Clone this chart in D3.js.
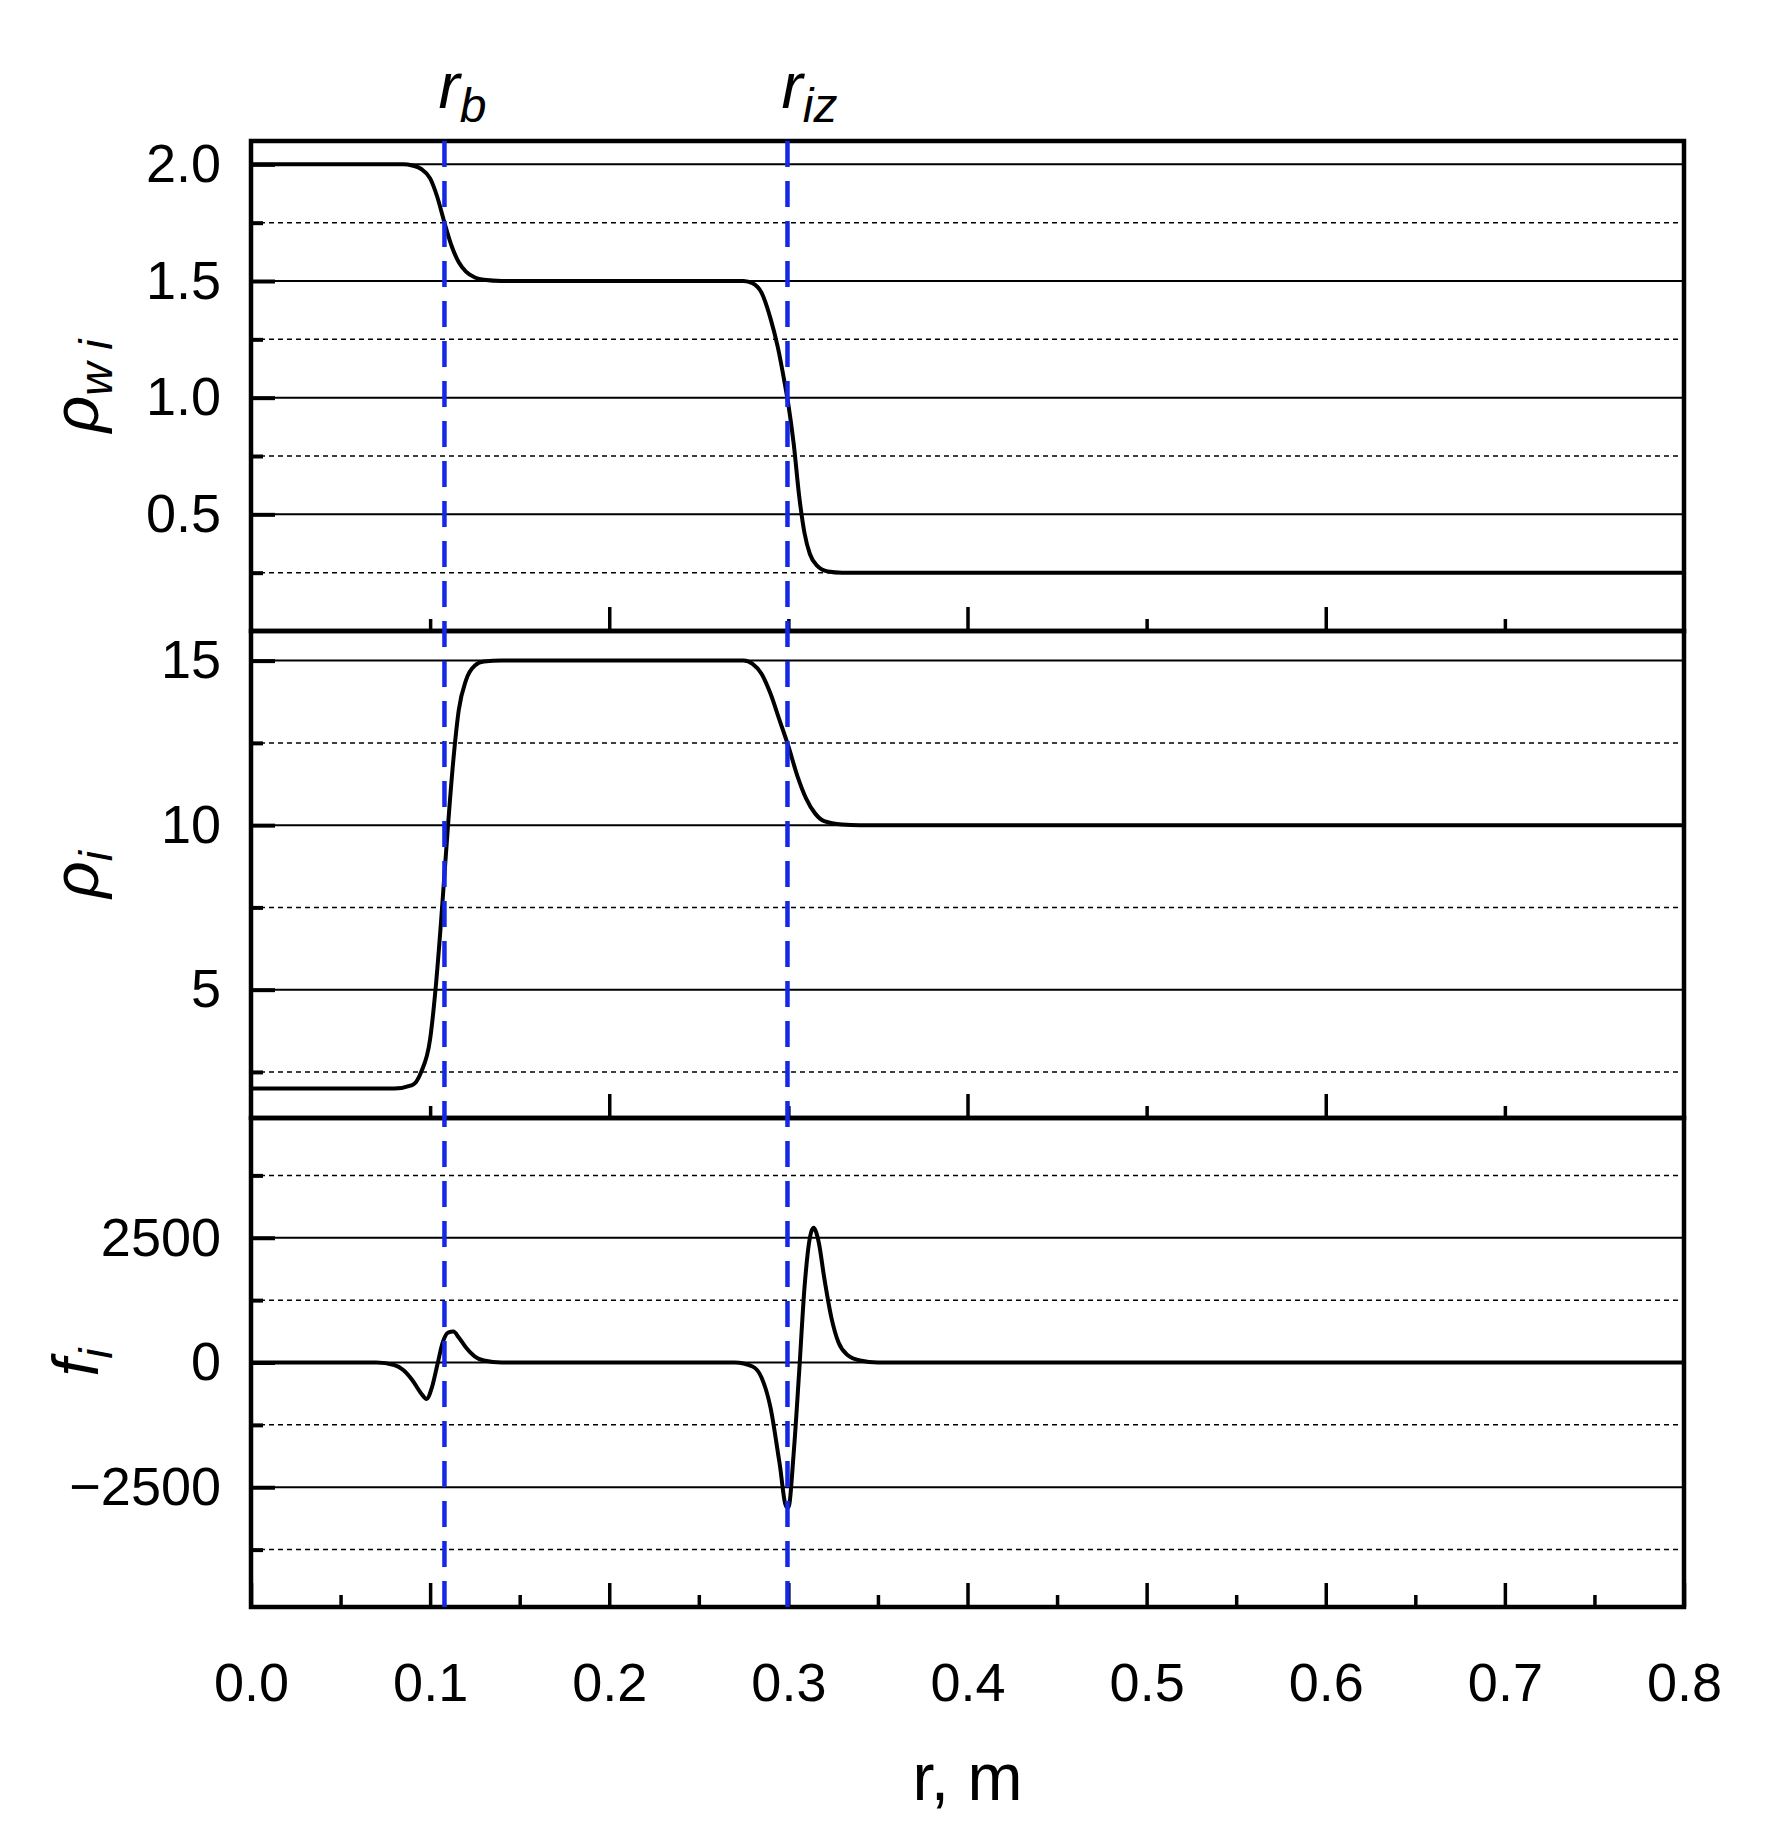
<!DOCTYPE html><html><head><meta charset="utf-8">
<script src="https://cdn.jsdelivr.net/npm/d3@7"></script>
<style>body{margin:0;background:#fff}</style></head><body>
<svg id="c" width="1780" height="1844"></svg>
<script>
const xTicks=[0,0.1,0.2,0.3,0.4,0.5,0.6,0.7,0.8];
const markers=[{x:0.108,label:"r",sub:"b"},{x:0.2995,label:"r",sub:"iz"}];
const rhoW=[[0,2],[0.085,2],[0.09,1.995],[0.095,1.98],[0.1,1.94],[0.104,1.86],[0.108,1.75],[0.112,1.65],[0.116,1.58],[0.12,1.54],[0.125,1.515],[0.13,1.505],[0.14,1.5],[0.275,1.5],[0.28,1.49],[0.285,1.45],[0.29,1.34],[0.294,1.22],[0.298,1.06],[0.3,0.97],[0.303,0.8],[0.306,0.58],[0.309,0.42],[0.312,0.33],[0.316,0.28],[0.322,0.255],[0.33,0.25],[0.8,0.25]];
const rhoI=[[0,2],[0.08,2],[0.09,2.1],[0.095,2.5],[0.1,3.5],[0.103,5],[0.106,7],[0.108,8.5],[0.11,10],[0.113,12],[0.116,13.5],[0.12,14.4],[0.125,14.85],[0.13,14.97],[0.14,15],[0.275,15],[0.28,14.9],[0.285,14.6],[0.29,14.0],[0.295,13.2],[0.3,12.4],[0.305,11.5],[0.31,10.8],[0.315,10.35],[0.32,10.12],[0.33,10.02],[0.34,10],[0.8,10]];
const fI=[[0,0],[0.07,0],[0.08,-50],[0.085,-150],[0.09,-350],[0.095,-620],[0.098,-730],[0.101,-500],[0.104,-50],[0.107,400],[0.11,600],[0.113,620],[0.116,500],[0.12,300],[0.125,120],[0.13,40],[0.14,0],[0.27,0],[0.28,-80],[0.285,-300],[0.29,-900],[0.295,-2000],[0.299,-2900],[0.3,-2900],[0.303,-1800],[0.306,-200],[0.309,1500],[0.312,2500],[0.314,2700],[0.317,2400],[0.32,1700],[0.324,900],[0.328,400],[0.333,150],[0.34,40],[0.35,0],[0.8,0]];
const panels=[
 {data:rhoW,dom:[0,2.1],major:[0.5,1.0,1.5,2.0],minor:[0.25,0.75,1.25,1.75],fmt:d3.format(".1f"),lab:"ρ",sub:"w i",top:141,bot:631},
 {data:rhoI,dom:[1.1,15.9],major:[5,10,15],minor:[2.5,7.5,12.5],fmt:d3.format("d"),lab:"ρ",sub:"i",top:631,bot:1118},
 {data:fI,dom:[-4900,4900],major:[-2500,0,2500],minor:[-3750,-1250,1250,3750],fmt:d=>d<0?"−"+Math.abs(d):String(d),lab:"f",sub:"i",top:1118,bot:1607}];
const L=251,R=1684;
const svg=d3.select("#c");
const x=d3.scaleLinear().domain([0,0.8]).range([L,R]);
const font="'Liberation Sans',Arial,sans-serif";
panels.forEach((p,i)=>{
 const y=d3.scaleLinear().domain(p.dom).range([p.bot,p.top]);
 const g=svg.append("g");
 p.minor.forEach(v=>g.append("line").attr("x1",L).attr("x2",R).attr("y1",y(v)).attr("y2",y(v)).attr("stroke","#000").attr("stroke-width",1.5).attr("stroke-dasharray","5,4"));
 p.major.forEach(v=>g.append("line").attr("x1",L).attr("x2",R).attr("y1",y(v)).attr("y2",y(v)).attr("stroke","#000").attr("stroke-width",2));
 const ya=d3.axisLeft(y).tickValues(p.major).tickSize(-24).tickFormat(p.fmt).tickPadding(30);
 const ag=g.append("g").attr("transform",`translate(${L},0)`).call(ya);
 ag.select(".domain").remove();
 ag.selectAll("line").attr("stroke-width",4);
 ag.selectAll("text").attr("font-family",font).attr("font-size",54).attr("fill","#000");
 g.append("g").attr("transform",`translate(${L},0)`).call(d3.axisLeft(y).tickValues(p.minor).tickSize(-12).tickFormat("")).call(a=>{a.select(".domain").remove();a.selectAll("line").attr("stroke-width",4);});
 const xa=g.append("g").attr("transform",`translate(0,${p.bot})`);
 if(i==2){
  xa.call(d3.axisBottom(x).tickValues(xTicks).tickSize(-24).tickFormat(d3.format(".1f")).tickPadding(56));
  g.append("g").attr("transform",`translate(0,${p.bot})`).call(d3.axisBottom(x).tickValues(d3.range(0.05,0.8,0.1)).tickSize(-12).tickFormat("")).call(a=>{a.select(".domain").remove();a.selectAll("line").attr("stroke-width",3.5);});
 } else {
  xa.call(d3.axisBottom(x).tickValues([0.2,0.4,0.6]).tickSize(-24).tickFormat(""));
  g.append("g").attr("transform",`translate(0,${p.bot})`).call(d3.axisBottom(x).tickValues([0.1,0.3,0.5,0.7]).tickSize(-12).tickFormat("")).call(a=>{a.select(".domain").remove();a.selectAll("line").attr("stroke-width",3.5);});
 }
 xa.call(a=>{a.select(".domain").remove();a.selectAll("line").attr("stroke-width",3.5);a.selectAll("text").attr("font-family",font).attr("font-size",54).attr("fill","#000");});
 g.append("path").datum(p.data).attr("fill","none").attr("stroke","#000").attr("stroke-width",4)
  .attr("d",d3.line().x(d=>x(d[0])).y(d=>y(d[1])).curve(d3.curveMonotoneX));
 const t=g.append("text").attr("transform",`translate(98,${(p.top+p.bot)/2}) rotate(-90)`).attr("text-anchor","middle").attr("font-family",font).attr("font-size",64).attr("font-style","italic");
 t.append("tspan").text(p.lab);
 t.append("tspan").attr("font-size",46).attr("dy",14).text(p.sub);
 g.append("rect").attr("x",L).attr("y",p.top).attr("width",R-L).attr("height",p.bot-p.top).attr("fill","none").attr("stroke","#000").attr("stroke-width",4.5);
});
markers.forEach(m=>{
 svg.append("line").attr("x1",x(m.x)).attr("x2",x(m.x)).attr("y1",141).attr("y2",1607).attr("stroke","#1428e6").attr("stroke-width",4.5).attr("stroke-dasharray","26,14");
 const t=svg.append("text").attr("x",x(m.x)-6).attr("y",108).attr("font-family",font).attr("font-size",64).attr("font-style","italic");
 t.append("tspan").text(m.label);t.append("tspan").attr("font-size",48).attr("dy",14).text(m.sub);
});
svg.append("text").attr("x",(L+R)/2).attr("y",1800).attr("text-anchor","middle").attr("font-family",font).attr("font-size",66).text("r, m");
</script></body></html>
